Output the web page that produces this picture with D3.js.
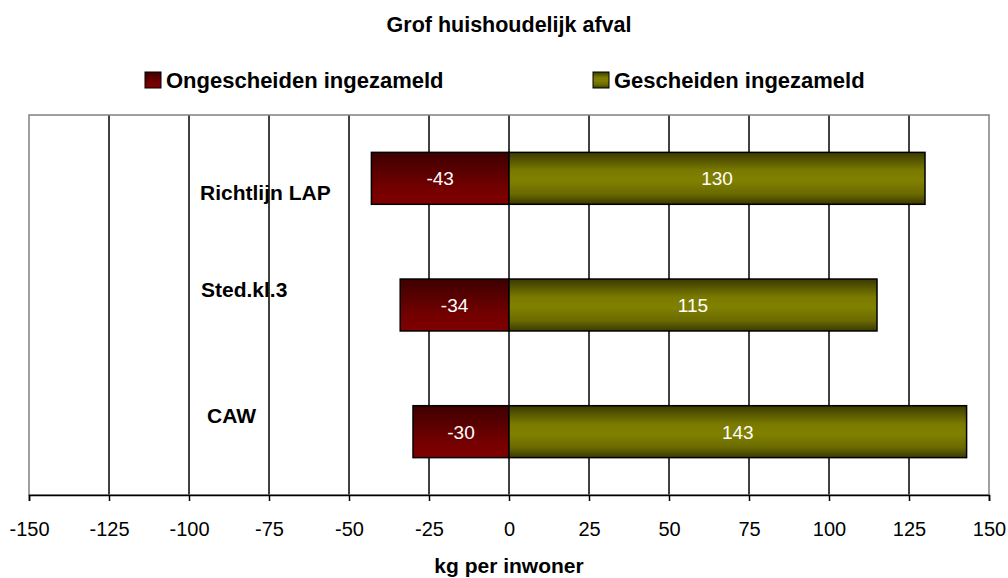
<!DOCTYPE html>
<html>
<head>
<meta charset="utf-8">
<script src="https://cdn.jsdelivr.net/npm/d3@7"></script>
<style>
  body { margin: 0; background: #fff; }
  svg { font-family: "Liberation Sans", Arial, sans-serif; }
</style>
</head>
<body>
<svg id="chart" width="1008" height="578"></svg>
<script>
// ── DATA ──────────────────────────────────────────────────────
const categories   = ["Richtlijn LAP", "Sted.kl.3", "CAW"];
const ongescheiden = [-43, -34, -30];
const gescheiden   = [130, 115, 143];
const xTicks       = [-150, -125, -100, -75, -50, -25, 0, 25, 50, 75, 100, 125, 150];
const seriesNames  = ["Ongescheiden ingezameld", "Gescheiden ingezameld"];

// category label offsets: [dx from plot left, dy from band centre]
const labelOffsets = [[171, 22], [172, -8], [178, -9]];

// ── LAYOUT ────────────────────────────────────────────────────
const svg = d3.select("#chart");
const plot = { left: 29, right: 989, top: 115, bottom: 495 };

const xScale = d3.scaleLinear()
  .domain([-150, 150])
  .range([plot.left, plot.right]);

const yScale = d3.scaleBand()
  .domain(categories)
  .range([plot.top, plot.bottom])
  .paddingInner(0.59)
  .paddingOuter(0.295);

// ── GRADIENTS ─────────────────────────────────────────────────
const defs = svg.append("defs");

const redGrad = defs.append("linearGradient")
  .attr("id", "gradRed")
  .attr("x1", 0).attr("y1", 0).attr("x2", 0).attr("y2", 1);
redGrad.append("stop").attr("offset", "0%").attr("stop-color", "#3e0000");
redGrad.append("stop").attr("offset", "70%").attr("stop-color", "#740000");
redGrad.append("stop").attr("offset", "100%").attr("stop-color", "#800000");

const oliveGrad = defs.append("linearGradient")
  .attr("id", "gradOlive")
  .attr("x1", 0).attr("y1", 0).attr("x2", 0).attr("y2", 1);
oliveGrad.append("stop").attr("offset", "0%").attr("stop-color", "#3a3a00");
oliveGrad.append("stop").attr("offset", "35%").attr("stop-color", "#7a7a00");
oliveGrad.append("stop").attr("offset", "55%").attr("stop-color", "#808000");
oliveGrad.append("stop").attr("offset", "80%").attr("stop-color", "#6a6a00");
oliveGrad.append("stop").attr("offset", "100%").attr("stop-color", "#3a3a00");

// ── TITLE ─────────────────────────────────────────────────────
svg.append("text")
  .attr("x", 509)
  .attr("y", 32)
  .attr("text-anchor", "middle")
  .style("font-size", "21.5px")
  .style("font-weight", "700")
  .text("Grof huishoudelijk afval");

// ── LEGEND ────────────────────────────────────────────────────
const legendX = [145, 593];
const legend = svg.selectAll(".legend")
  .data(seriesNames)
  .join("g")
    .attr("class", "legend")
    .attr("transform", (d, i) => `translate(${legendX[i]}, 72)`);

legend.append("rect")
  .attr("width", 16)
  .attr("height", 16)
  .attr("fill", (d, i) => i === 0 ? "url(#gradRed)" : "url(#gradOlive)")
  .attr("stroke", "#000")
  .attr("stroke-width", 1);

legend.append("text")
  .attr("x", 21)
  .attr("y", 16)
  .style("font-size", "22px")
  .style("font-weight", "700")
  .text(d => d);

// ── GRID + FRAME ──────────────────────────────────────────────
svg.append("g")
  .selectAll("line")
  .data(xTicks.slice(1, -1))
  .join("line")
    .attr("x1", d => xScale(d))
    .attr("x2", d => xScale(d))
    .attr("y1", plot.top)
    .attr("y2", plot.bottom)
    .attr("stroke", "#000")
    .attr("stroke-width", 1.5);

svg.append("rect")
  .attr("x", plot.left)
  .attr("y", plot.top)
  .attr("width", plot.right - plot.left)
  .attr("height", plot.bottom - plot.top)
  .attr("fill", "none")
  .attr("stroke", "#808080")
  .attr("stroke-width", 1.5);

// ── X AXIS ────────────────────────────────────────────────────
const xAxis = svg.append("g")
  .attr("transform", `translate(0, ${plot.bottom})`)
  .call(d3.axisBottom(xScale).tickValues(xTicks).tickSize(6).tickPadding(21).tickFormat(d => String(d)));

xAxis.select(".domain").attr("stroke", "#000").attr("stroke-width", 1.5);
xAxis.selectAll(".tick line").attr("stroke", "#000").attr("stroke-width", 1.5);
xAxis.selectAll(".tick text")
  .style("font-size", "20px")
  .style("font-family", "\"Liberation Sans\", Arial, sans-serif")
  .attr("fill", "#000");

svg.append("text")
  .attr("x", 509)
  .attr("y", 573)
  .attr("text-anchor", "middle")
  .style("font-size", "21px")
  .style("font-weight", "700")
  .text("kg per inwoner");

// ── BARS ──────────────────────────────────────────────────────
const rows = categories.map((c, i) => ({ cat: c, neg: ongescheiden[i], pos: gescheiden[i], i }));

const barG = svg.append("g");

barG.selectAll(".bar-neg")
  .data(rows)
  .join("rect")
    .attr("class", "bar-neg")
    .attr("x", d => xScale(d.neg))
    .attr("y", d => yScale(d.cat))
    .attr("width", d => xScale(0) - xScale(d.neg))
    .attr("height", yScale.bandwidth())
    .attr("fill", "url(#gradRed)")
    .attr("stroke", "#000")
    .attr("stroke-width", 1.5);

barG.selectAll(".bar-pos")
  .data(rows)
  .join("rect")
    .attr("class", "bar-pos")
    .attr("x", xScale(0))
    .attr("y", d => yScale(d.cat))
    .attr("width", d => xScale(d.pos) - xScale(0))
    .attr("height", yScale.bandwidth())
    .attr("fill", "url(#gradOlive)")
    .attr("stroke", "#000")
    .attr("stroke-width", 1.5);

// value labels
barG.selectAll(".lbl-neg")
  .data(rows)
  .join("text")
    .attr("class", "lbl-neg")
    .attr("x", d => xScale(d.neg / 2))
    .attr("y", d => yScale(d.cat) + yScale.bandwidth() / 2 + 7)
    .attr("text-anchor", "middle")
    .attr("fill", "#fff")
    .style("font-size", "19px")
    .text(d => d.neg);

barG.selectAll(".lbl-pos")
  .data(rows)
  .join("text")
    .attr("class", "lbl-pos")
    .attr("x", d => xScale(d.pos / 2))
    .attr("y", d => yScale(d.cat) + yScale.bandwidth() / 2 + 7)
    .attr("text-anchor", "middle")
    .attr("fill", "#fff")
    .style("font-size", "19px")
    .text(d => d.pos);

// ── CATEGORY LABELS ───────────────────────────────────────────
svg.selectAll(".cat-label")
  .data(rows)
  .join("text")
    .attr("class", "cat-label")
    .attr("x", d => plot.left + labelOffsets[d.i][0])
    .attr("y", d => yScale(d.cat) + yScale.bandwidth() / 2 + labelOffsets[d.i][1])
    .style("font-size", "21px")
    .style("font-weight", "700")
    .text(d => d.cat);
</script>
</body>
</html>
